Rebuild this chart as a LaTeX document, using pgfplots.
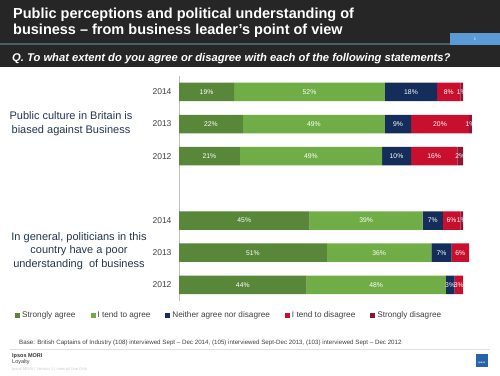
\documentclass[border=0pt]{standalone}
\usepackage{pgfplots}
\pgfplotsset{compat=1.18}
\usepackage{fontspec}
\setmainfont{Liberation Sans}
\definecolor{sagree}{RGB}{88,135,58}
\definecolor{tagree}{RGB}{112,173,71}
\definecolor{neither}{RGB}{20,45,90}
\definecolor{tdis}{RGB}{200,16,46}
\definecolor{sdis}{RGB}{140,22,52}
\definecolor{hdr}{RGB}{38,38,38}
\definecolor{hline}{RGB}{70,95,105}
\definecolor{pagebox}{RGB}{91,155,213}
\definecolor{catcol}{RGB}{35,55,80}
\definecolor{txtgray}{RGB}{64,64,64}
\definecolor{logoblue}{RGB}{40,100,170}
\pgfplotsset{
  segbar/.style={fill=#1, draw=none,
    legend image code/.code={\fill[#1] (0pt,-2.5pt) rectangle (5pt,2.5pt);}},
}
\begin{document}
\begin{tikzpicture}[x=1pt,y=1pt]
\useasboundingbox (0,0) rectangle (500,375);
\fill[white] (0,0) rectangle (500,375);
% header
\fill[hdr] (0,308) rectangle (500,375);
\fill[hline] (0,329.5) rectangle (500,331.5);
\fill[pagebox] (450,330) rectangle (500,342);
\node[white,font=\fontsize{4}{5}\selectfont] at (475,336) {1};
\node[anchor=base west, white, font=\fontsize{14.5}{16}\selectfont\bfseries, inner sep=0pt] at (13,356.5) {Public perceptions and political understanding of};
\node[anchor=base west, white, font=\fontsize{14.5}{16}\selectfont\bfseries, inner sep=0pt] at (13,340) {business – from business leader’s point of view};
\node[anchor=base west, white, font=\fontsize{11.2}{13}\selectfont\bfseries\itshape, inner sep=0pt] at (12,313.3) {Q. To what extent do you agree or disagree with each of the following statements?};
% category labels
\node[align=center, text=catcol, font=\fontsize{11}{14}\selectfont] at (71,251) {Public culture in Britain is\\biased against Business};
\node[align=center, text=catcol, font=\fontsize{11}{13.5}\selectfont] at (79,124) {In general, politicians in this\\country have a poor\\understanding~ of business};
\begin{axis}[
  at={(179pt,74pt)}, anchor=south west, scale only axis,
  width=304.5pt, height=225.2pt,
  xbar stacked, bar width=18.5pt,
  xmin=0, xmax=105, ymin=-0.5, ymax=6.5,
  axis x line=none, axis y line*=left,
  y axis line style={draw=gray!50},
  ytick={0,1,2,4,5,6}, yticklabels={2012,2013,2014,2012,2013,2014},
  major tick length=0pt,
  yticklabel style={font=\fontsize{8.5}{10}\selectfont, text=txtgray, xshift=-4pt},
  clip=false,
  /pgf/number format/assume math mode=true,
  nodes near coords={\pgfmathprintnumber{\pgfplotspointmeta}\%},
  every node near coord/.append style={anchor=center, text=white, font=\fontsize{6.8}{8}\selectfont, inner sep=0pt},
  legend columns=5,
  legend style={at={(-0.5386,-0.0622)}, anchor=west, draw=none, fill=none,
    font=\fontsize{8.2}{10}\selectfont, text=txtgray, inner sep=0pt,
    /tikz/every even column/.append style={column sep=13pt}},
]
\addplot[segbar=sagree] coordinates {(19,6) (22,5) (21,4) (45,2) (51,1) (44,0)};
\addlegendentry{Strongly agree}
\addplot[segbar=tagree] coordinates {(52,6) (49,5) (49,4) (39,2) (36,1) (48,0)};
\addlegendentry{I tend to agree}
\addplot[segbar=neither] coordinates {(18,6) (9,5) (10,4) (7,2) (7,1) (3,0)};
\addlegendentry{Neither agree nor disagree}
\addplot[segbar=tdis] coordinates {(8,6) (20,5) (16,4) (6,2) (6,1) (3,0)};
\addlegendentry{I tend to disagree}
\addplot[segbar=sdis] coordinates {(1,6) (1,5) (2,4) (1,2)};
\addlegendentry{Strongly disagree}
\end{axis}
% footer
\node[anchor=west, text=txtgray, font=\fontsize{6.2}{7}\selectfont, inner sep=0pt] at (19,32) {Base: British Captains of Industry (108) interviewed Sept – Dec 2014, (105) interviewed Sept-Dec 2013, (103) interviewed Sept – Dec 2012};
\draw[gray!25, line width=0.4pt] (10,26) -- (490,26);
\node[anchor=west, text=black!80, font=\fontsize{5.5}{7}\selectfont\bfseries, inner sep=0pt] at (12,19) {Ipsos MORI};
\node[anchor=west, text=txtgray, font=\fontsize{5.5}{7}\selectfont, inner sep=0pt] at (12,12.5) {Loyalty};
\node[anchor=west, text=gray!40, font=\fontsize{4}{5}\selectfont, inner sep=0pt] at (12,6) {Ipsos MORI | Version 1 | Internal Use Only};
\fill[logoblue] (476,8) rectangle (488,21);
\node[white, font=\fontsize{2.5}{3}\selectfont\bfseries, inner sep=0pt] at (482,12) {Ipsos};
\end{tikzpicture}
\end{document}
